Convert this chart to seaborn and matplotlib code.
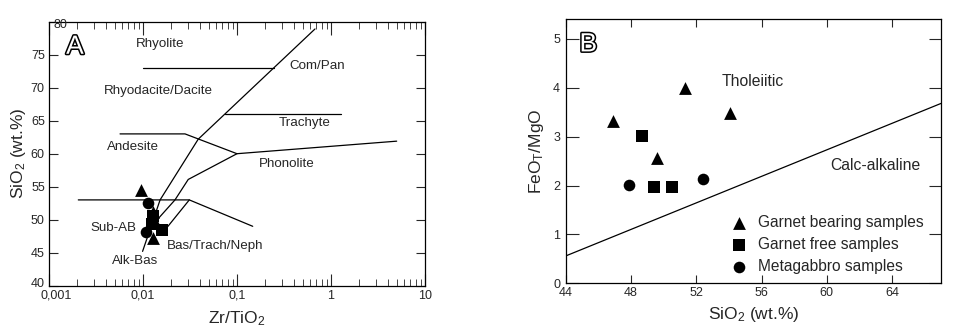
import numpy as np
import pandas as pd
import matplotlib
matplotlib.use("Agg")
import matplotlib.pyplot as plt
import matplotlib.patheffects as pe
from matplotlib.ticker import LogLocator, NullFormatter
from matplotlib.transforms import ScaledTranslation
import seaborn as sns

sns.set_style("ticks")
plt.rcParams['font.family'] = ['Liberation Sans', 'DejaVu Sans']
plt.rcParams['mathtext.default'] = 'regular'

# ---- panel A: Zr/TiO2 vs SiO2 (Winchester & Floyd fields) ----
groups = ["Garnet bearing samples", "Garnet free samples", "Metagabbro samples"]
markers = {"Garnet bearing samples": "^", "Garnet free samples": "s", "Metagabbro samples": "o"}
msize = {"Garnet bearing samples": 85, "Garnet free samples": 65, "Metagabbro samples": 70}

a_tri_zr = [0.0095, 0.0128, 0.0135, 0.0129]
a_tri_si = [54.5, 51.2, 49.6, 47.2]
a_sq_zr = [0.0158, 0.0125, 0.0127]
a_sq_si = [48.5, 49.4, 50.5]
a_ci_zr = [0.0114, 0.0107]
a_ci_si = [52.5, 48.1]

# field boundaries
rhy_x, rhy_y = [0.0099, 0.246], [73, 73]
diag_x, diag_y = [0.0099, 0.0152, 0.0387, 0.676], [45.2, 53, 62.2, 78.9]
compan_x, compan_y = [0.0743, 1.28], [66, 66]
andes_x, andes_y = [0.0057, 0.028, 0.1, 5.0], [63, 63, 60, 61.9]
phon_x, phon_y = [0.1, 0.0303, 0.0219, 0.0146], [60, 56.1, 53, 50.2]
subab_x, subab_y = [0.00205, 0.0311, 0.147], [53, 53, 49]
bas_x, bas_y = [0.0311, 0.0175], [53, 48.6]

field_names = ["Rhyolite", "Com/Pan", "Rhyodacite/Dacite", "Trachyte", "Andesite",
               "Phonolite", "Sub-AB", "Bas/Trach/Neph", "Alk-Bas"]
field_x = [0.0152, 0.714, 0.01455, 0.528, 0.0079, 0.338, 0.0049, 0.0583, 0.0082]
field_y = [76.6, 73.3, 69.5, 64.7, 61.0, 58.4, 48.7, 46.0, 43.8]

# ---- panel B: SiO2 vs FeOT/MgO ----
b_tri_si = [46.9, 51.3, 54.06, 49.6]
b_tri_fe = [3.31, 3.99, 3.48, 2.56]
b_sq_si = [48.67, 49.4, 50.5]
b_sq_fe = [3.01, 1.96, 1.98]
b_ci_si = [47.9, 52.4]
b_ci_fe = [2.01, 2.13]
miya_si = [44, 67]
miya_fe = [0.56, 3.68]

dfa = pd.DataFrame({
    "zr": a_tri_zr + a_sq_zr + a_ci_zr,
    "si": a_tri_si + a_sq_si + a_ci_si,
    "group": [groups[0]] * 4 + [groups[1]] * 3 + [groups[2]] * 2,
})
dfb = pd.DataFrame({
    "si": b_tri_si + b_sq_si + b_ci_si,
    "fe": b_tri_fe + b_sq_fe + b_ci_fe,
    "group": [groups[0]] * 4 + [groups[1]] * 3 + [groups[2]] * 2,
})

fig = plt.figure(figsize=(9.55, 3.36), dpi=100)
ax1 = fig.add_axes([0.0513, 0.1497, 0.3937, 0.7857])
ax2 = fig.add_axes([0.5924, 0.1568, 0.3930, 0.7857])

lw = 0.9
for xs, ys in [(rhy_x, rhy_y), (diag_x, diag_y), (compan_x, compan_y), (andes_x, andes_y),
               (phon_x, phon_y), (subab_x, subab_y), (bas_x, bas_y)]:
    ax1.plot(xs, ys, color="black", lw=lw)

for g in groups:
    sub = dfa[dfa["group"] == g]
    sns.scatterplot(data=sub, x="zr", y="si", marker=markers[g], s=msize[g],
                    color="black", edgecolor="black", linewidth=0, ax=ax1, zorder=3)

for name, fx, fy in zip(field_names, field_x, field_y):
    ax1.text(fx, fy, name, ha="center", va="center", fontsize=9.6)

ax1.set_xscale("log")
ax1.set_xlim(0.001, 10)
ax1.set_ylim(40, 80)
ax1.set_xticks([0.001, 0.01, 0.1, 1, 10], ["0,001", "0,01", "0,1", "1", "10"])
ax1.xaxis.set_minor_locator(LogLocator(base=10, subs=np.arange(2, 10)))
ax1.xaxis.set_minor_formatter(NullFormatter())
ax1.set_yticks([40, 45, 50, 55, 60, 65, 70, 75, 80], ["40", "45", "50", "55", "60", "65", "70", "75", ""])
ax1.text(0.012, 1.01, "80", transform=ax1.transAxes, ha="left", va="top", fontsize=9)
ax1.tick_params(axis="x", which="major", direction="in", length=9, top=True, labelsize=9, pad=3)
ax1.tick_params(axis="x", which="minor", direction="in", length=5, top=True)
ax1.tick_params(axis="y", which="major", direction="in", length=6.5, right=True, labelsize=9, pad=3)
ax1.set_xlabel("Zr/TiO$_2$", fontsize=12.5, labelpad=5)
ax1.set_ylabel("SiO$_2$ (wt.%)", fontsize=12.5, labelpad=2)
ax1.text(0.069, 0.905, "A", transform=ax1.transAxes, ha="center", va="center",
         fontsize=19, color="white",
         path_effects=[pe.withStroke(linewidth=2.2, foreground="black")])

# nudge the first x label and the "40" label apart, as in the original
first = ax1.get_xticklabels()[0]
first.set_transform(first.get_transform() + ScaledTranslation(5 / 72, 0, fig.dpi_scale_trans))
low = ax1.get_yticklabels()[0]
low.set_transform(low.get_transform() + ScaledTranslation(0, 2 / 72, fig.dpi_scale_trans))

sns.lineplot(x=miya_si, y=miya_fe, color="black", lw=lw, ax=ax2)
for g in groups:
    sub = dfb[dfb["group"] == g]
    sns.scatterplot(data=sub, x="si", y="fe", marker=markers[g], s=msize[g],
                    color="black", edgecolor="black", linewidth=0, ax=ax2,
                    label=g, zorder=3)

ax2.text(55.45, 4.12, "Tholeiitic", ha="center", va="center", fontsize=11.3)
ax2.text(62.96, 2.42, "Calc-alkaline", ha="center", va="center", fontsize=11.3)
ax2.text(0.060, 0.905, "B", transform=ax2.transAxes, ha="center", va="center",
         fontsize=19, color="white",
         path_effects=[pe.withStroke(linewidth=2.2, foreground="black")])

ax2.set_xlim(44, 67)
ax2.set_ylim(0, 5.4)
ax2.set_xticks([44, 48, 52, 56, 60, 64])
ax2.set_yticks([0, 1, 2, 3, 4, 5])
ax2.tick_params(axis="x", direction="in", length=6, top=True, labelsize=9, pad=3)
ax2.tick_params(axis="y", direction="in", length=9, right=True, labelsize=9, pad=4)
ax2.set_xlabel("SiO$_2$ (wt.%)", fontsize=12.5, labelpad=4)
ax2.set_ylabel("FeO$_T$/MgO", fontsize=12.5, labelpad=5)

ax2.legend(loc="lower left", bbox_to_anchor=(0.44, 0.035), frameon=False, fontsize=11.2,
           handlelength=1.0, handletextpad=0.75, labelspacing=0.45,
           borderpad=0, borderaxespad=0)

for ax in (ax1, ax2):
    for sp in ax.spines.values():
        sp.set_visible(True)
        sp.set_linewidth(0.9)
        sp.set_color("black")

fig.savefig("out.png", dpi=100)
